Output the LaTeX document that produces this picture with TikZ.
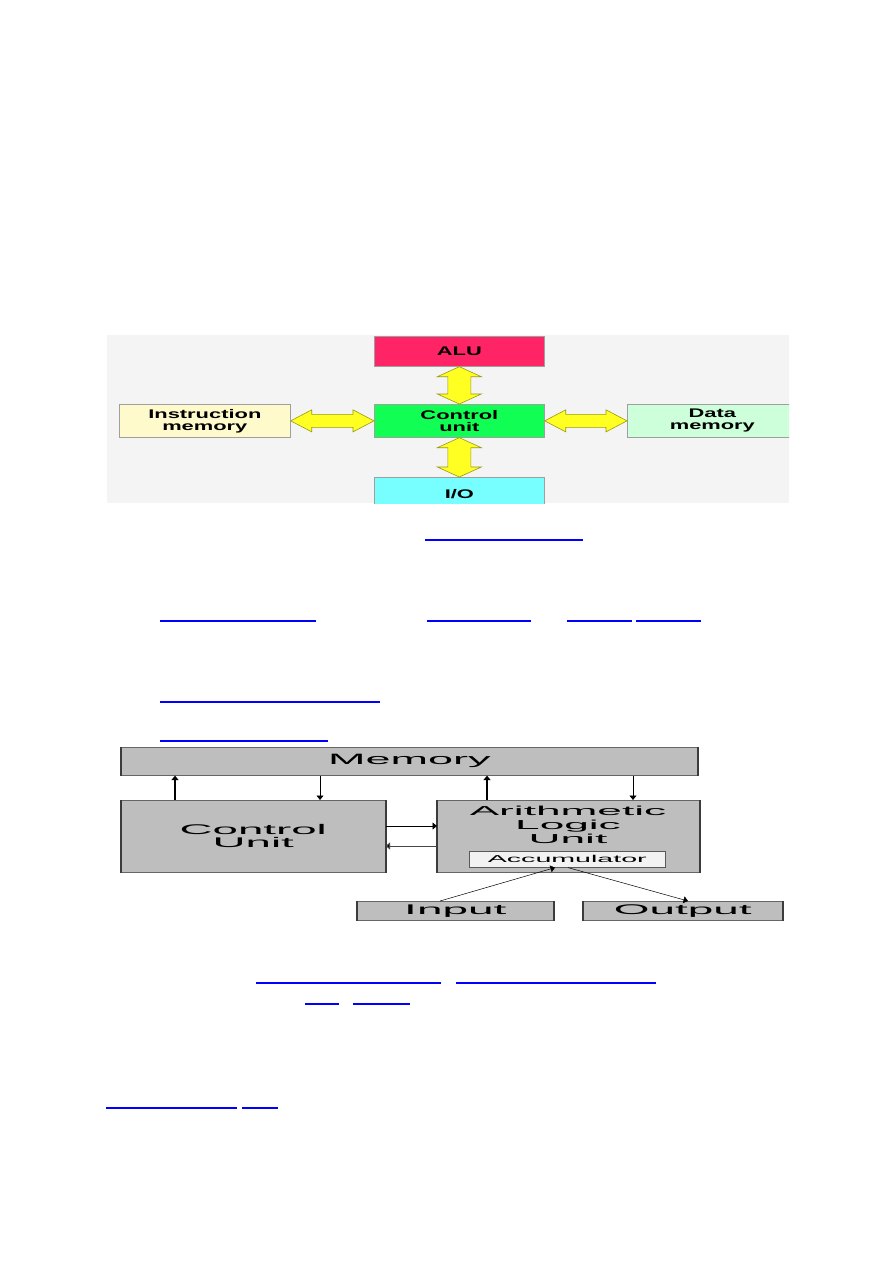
\documentclass[tikz,border=0pt]{standalone}
\usepackage{fontspec}
\setmainfont{Liberation Sans}
\usepackage{graphicx}
\usetikzlibrary{arrows.meta,calc}
\definecolor{alured}{HTML}{FF2466}
\definecolor{cugreen}{HTML}{11FF55}
\definecolor{iocyan}{HTML}{77FFFF}
\definecolor{imyellow}{HTML}{FFFACC}
\definecolor{dmgreen}{HTML}{CCFFDA}
\definecolor{bgpat}{HTML}{F4F4F4}
\definecolor{yfill}{HTML}{FFFF22}
\definecolor{yedge}{HTML}{9A9A10}
\definecolor{boxgray}{HTML}{BEBEBE}
\definecolor{edgedark}{HTML}{3C3C3C}
\definecolor{acclight}{HTML}{F2F2F2}
\definecolor{linkblue}{HTML}{0000FF}
\newcommand\wbold[1]{\scalebox{1.75}[1]{\fontsize{12.5}{12.5}\selectfont\bfseries #1}}
\newcommand\wreg[3]{\scalebox{#2}[1]{\fontsize{#1}{#1}\selectfont #3}}
\newcommand\harr[2]{\draw[yarrow] (#1.east) -- ([shift={(21,-11)}]#1.east) -- ([shift={(21,-6.5)}]#1.east) -- ([shift={(-21,-6.5)}]#2.west) -- ([shift={(-21,-11)}]#2.west) -- (#2.west) -- ([shift={(-21,11)}]#2.west) -- ([shift={(-21,6.5)}]#2.west) -- ([shift={(21,6.5)}]#1.east) -- ([shift={(21,11)}]#1.east) -- cycle;}
\newcommand\varr[2]{\draw[yarrow] (#1.south) -- ([shift={(22,10)}]#1.south) -- ([shift={(11.5,10)}]#1.south) -- ([shift={(11.5,-10)}]#2.north) -- ([shift={(22,-10)}]#2.north) -- (#2.north) -- ([shift={(-22,-10)}]#2.north) -- ([shift={(-11.5,-10)}]#2.north) -- ([shift={(-11.5,10)}]#1.south) -- ([shift={(-22,10)}]#1.south) -- cycle;}
\newcommand\vedges[1]{\draw[vedge] (#1.north west) -- (#1.south west) (#1.north east) -- (#1.south east);}
\begin{document}
\begin{tikzpicture}[x=1pt,y=-1pt,
 cbox/.style={draw=gray!75, line width=0.7pt, inner sep=0pt, anchor=north west, align=center, font=\fontsize{12.5}{12}\selectfont},
 yarrow/.style={fill=yfill, draw=yedge, line width=0.6pt, line join=miter},
 gbox/.style={fill=boxgray, draw=gray!80!black, line width=0.6pt, inner sep=0pt, anchor=north west, align=center},
 vedge/.style={draw=edgedark, line width=2pt},
 flow/.style={-{Triangle[length=4.5pt,width=7pt]}, line width=0.7pt, draw=black},
 link/.style={draw=linkblue, line width=1.2pt},
 linkthick/.style={draw=linkblue, line width=2.2pt}]
\useasboundingbox (0,0) rectangle (893,1263);
\fill[white] (0,0) rectangle (893,1263);
% ---------- first diagram ----------
\begin{scope}
\clip (107,335) rectangle (789,503);
\fill[bgpat] (107,335) rectangle (789,503);
\node[cbox, fill=alured, minimum width=170pt, minimum height=30pt] (alu) at (374,336) {\wbold{ALU}};
\node[cbox, fill=cugreen, minimum width=170pt, minimum height=33pt] (cu) at (374,404) {\wbold{Control}\\\wbold{unit}};
\node[cbox, fill=iocyan, minimum width=170pt, minimum height=33pt] (io) at (374,477) {\wbold{I/O}};
\node[cbox, fill=imyellow, minimum width=171pt, minimum height=33pt] (im) at (119,404) {\wbold{Instruction}\\\wbold{memory}};
\node[cbox, fill=dmgreen, minimum width=170pt, minimum height=33pt] (dm) at (627,404) {\wbold{Data}\\\wbold{memory}};
\harr{im}{cu}
\harr{cu}{dm}
\varr{alu}{cu}
\varr{cu}{io}
\end{scope}
% ---------- links ----------
\draw[link] (425,540) -- (583,540);
\draw[linkthick] (160,621) -- (316,621) (427,621) -- (531,621) (567,621) -- (632,621) (636,621) -- (701,621);
\draw[link] (160,702) -- (380,702);
\draw[link] (160,741) -- (328,741);
\draw[link] (256,983) -- (441,983) (456,983) -- (656,983);
\draw[link] (305,1004) -- (339,1004) (353,1004) -- (410,1004);
\draw[link] (106,1108) -- (237,1108) (242,1108) -- (278,1108);
% ---------- second diagram ----------
\node[gbox, minimum width=576pt, minimum height=28pt] (mem) at (121,747) {\wreg{15}{3.0}{Memory}};
\node[gbox, minimum width=264pt, minimum height=72pt, font=\fontsize{14}{13}\selectfont] (cu2) at (121,800) {\wreg{14}{3.26}{Control}\\\wreg{14}{3.26}{Unit}};
\node[gbox, minimum width=262pt, minimum height=72pt] (alu2) at (437,800) {};
\node[anchor=north, inner sep=0pt, align=center, font=\fontsize{13}{14}\selectfont] (alutext) at (568,806) {\wreg{13}{3.4}{Arithmetic}\\\wreg{13}{3.4}{Logic}\\\wreg{13}{3.4}{Unit}};
\node[gbox, fill=acclight, draw=gray!70!black, minimum width=196pt, minimum height=16pt] (acc) at (469,851) {\wreg{10}{2.86}{Accumulator}};
\node[gbox, minimum width=196pt, minimum height=19pt] (inp) at (357,901) {\wreg{14}{3.28}{Input}};
\node[gbox, minimum width=199pt, minimum height=19pt] (outp) at (583,901) {\wreg{14}{3.28}{Output}};
\vedges{mem}
\vedges{cu2}
\vedges{alu2}
\vedges{inp}
\vedges{outp}
\coordinate (p1) at ([xshift=54pt]cu2.north west);
\coordinate (p2) at ([xshift=199pt]cu2.north west);
\coordinate (p3) at ([xshift=50pt]alu2.north west);
\coordinate (p4) at ([xshift=196pt]alu2.north west);
\coordinate (h1) at ([yshift=-26pt]cu2.north east);
\coordinate (h2) at ([yshift=-46pt]alu2.north west);
\coordinate (i1) at ([xshift=83pt]inp.north west);
\coordinate (i2) at ([xshift=86pt]acc.south west);
\coordinate (o1) at ([xshift=99pt]acc.south west);
\coordinate (o2) at ([xshift=105pt]outp.north west);
\draw[flow, line width=1.2pt] (p1) -- (p1 |- mem.south);
\draw[flow] (p2 |- mem.south) -- (p2);
\draw[flow, line width=1.2pt] (p3) -- (p3 |- mem.south);
\draw[flow] (p4 |- mem.south) -- (p4);
\draw[flow] (h1) -- (h1 -| alu2.west);
\draw[-{Triangle[length=4.5pt,width=7pt,fill=black]}, line width=1pt, draw=gray!55!black] (h2) -- (h2 -| cu2.east);
\draw[flow, line width=0.5pt] (i1) -- (i2);
\draw[flow, line width=0.5pt] (o1) -- (o2);
\end{tikzpicture}
\end{document}
